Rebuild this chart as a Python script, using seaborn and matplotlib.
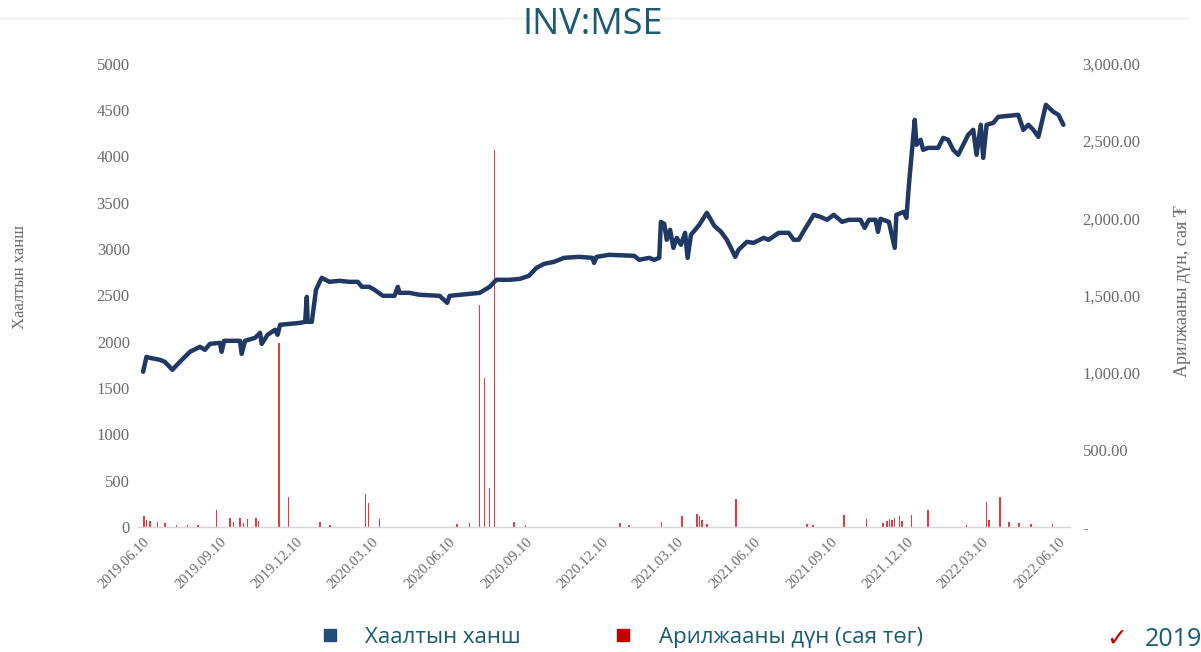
import numpy as np
import pandas as pd
import matplotlib.pyplot as plt
import matplotlib.dates as mdates
from matplotlib.lines import Line2D
from matplotlib.ticker import FuncFormatter
import seaborn as sns

# Closing price
price_dates = [
    "2019-06-10", "2019-06-14", "2019-06-18", "2019-06-30", "2019-07-06", "2019-07-15",
    "2019-07-24", "2019-08-05", "2019-08-17", "2019-08-23", "2019-08-29", "2019-09-10",
    "2019-09-12", "2019-09-15", "2019-10-04", "2019-10-06", "2019-10-10", "2019-10-22",
    "2019-10-28", "2019-10-30", "2019-11-06", "2019-11-15", "2019-11-18", "2019-11-21",
    "2019-12-03", "2019-12-15", "2019-12-21", "2019-12-23", "2019-12-24", "2019-12-29",
    "2020-01-03", "2020-01-08", "2020-01-10", "2020-01-19", "2020-01-31", "2020-02-12",
    "2020-02-22", "2020-02-27", "2020-03-07", "2020-03-13", "2020-03-23", "2020-04-06",
    "2020-04-10", "2020-04-12", "2020-04-24", "2020-05-06", "2020-05-30", "2020-06-08",
    "2020-06-11", "2020-07-05", "2020-07-17", "2020-07-29", "2020-08-06", "2020-08-22",
    "2020-09-03", "2020-09-14", "2020-09-23", "2020-10-02", "2020-10-14", "2020-10-26",
    "2020-11-13", "2020-11-29", "2020-12-01", "2020-12-04", "2020-12-19", "2021-01-18",
    "2021-01-24", "2021-02-05", "2021-02-11", "2021-02-17", "2021-02-19", "2021-02-23",
    "2021-02-26", "2021-03-02", "2021-03-06", "2021-03-10", "2021-03-15", "2021-03-20",
    "2021-03-23", "2021-03-27", "2021-04-06", "2021-04-15", "2021-04-24", "2021-05-02",
    "2021-05-09", "2021-05-15", "2021-05-19", "2021-05-23", "2021-06-02", "2021-06-10",
    "2021-06-22", "2021-06-28", "2021-07-10", "2021-07-22", "2021-07-28", "2021-08-03",
    "2021-08-10", "2021-08-21", "2021-08-29", "2021-09-06", "2021-09-14", "2021-09-24",
    "2021-10-02", "2021-10-16", "2021-10-21", "2021-10-26", "2021-11-03", "2021-11-06",
    "2021-11-09", "2021-11-19", "2021-11-26", "2021-11-28", "2021-12-07", "2021-12-10",
    "2021-12-13", "2021-12-16", "2021-12-20", "2021-12-22", "2021-12-27", "2021-12-30",
    "2022-01-05", "2022-01-17", "2022-01-23", "2022-01-29", "2022-02-04", "2022-02-10",
    "2022-02-16", "2022-02-22", "2022-02-28", "2022-03-04", "2022-03-09", "2022-03-12",
    "2022-03-16", "2022-03-24", "2022-03-30", "2022-04-23", "2022-04-29", "2022-05-05",
    "2022-05-11", "2022-05-17", "2022-05-26", "2022-06-04", "2022-06-10", "2022-06-16",
]
close = [
    1675, 1836, 1825, 1804, 1782, 1696,
    1782, 1890, 1944, 1912, 1976, 1987,
    1890, 2009, 2009, 1868, 2009, 2041,
    2095, 1976, 2074, 2128, 2074, 2182,
    2192, 2203, 2214, 2484, 2214, 2214,
    2560, 2657, 2689, 2646, 2657, 2646,
    2646, 2592, 2592, 2560, 2495, 2495,
    2592, 2527, 2527, 2506, 2495, 2419,
    2495, 2516, 2527, 2592, 2668, 2668,
    2678, 2711, 2797, 2840, 2862, 2905,
    2916, 2905, 2851, 2916, 2938, 2927,
    2884, 2905, 2884, 2905, 3294, 3272,
    3100, 3208, 3013, 3121, 3046, 3175,
    2905, 3154, 3262, 3391, 3251, 3186,
    3100, 2992, 2916, 2992, 3078, 3067,
    3121, 3100, 3175, 3175, 3100, 3100,
    3208, 3370, 3348, 3316, 3370, 3294,
    3316, 3316, 3229, 3316, 3316, 3186,
    3326, 3294, 3013, 3370, 3402, 3337,
    3694, 3996, 4396, 4126, 4180, 4072,
    4093, 4093, 4201, 4180, 4072, 4018,
    4126, 4234, 4288, 4018, 4342, 3985,
    4342, 4363, 4428, 4450, 4288, 4342,
    4288, 4212, 4558, 4482, 4450, 4342,
]

# Trading value, million MNT
vol_dates = [
    "2019-06-11", "2019-06-14", "2019-06-18", "2019-06-27", "2019-07-06", "2019-07-20",
    "2019-08-02", "2019-08-15", "2019-09-06", "2019-09-22", "2019-09-26", "2019-10-04",
    "2019-10-08", "2019-10-13", "2019-10-23", "2019-10-26", "2019-11-20", "2019-12-01",
    "2020-01-08", "2020-01-20", "2020-03-02", "2020-03-06", "2020-03-19", "2020-06-20",
    "2020-07-05", "2020-07-17", "2020-07-23", "2020-07-29", "2020-08-04", "2020-08-27",
    "2020-09-10", "2021-01-01", "2021-01-12", "2021-02-20", "2021-03-16", "2021-04-03",
    "2021-04-06", "2021-04-09", "2021-04-15", "2021-05-20", "2021-08-13", "2021-08-20",
    "2021-09-26", "2021-10-23", "2021-11-12", "2021-11-17", "2021-11-20", "2021-11-23",
    "2021-11-26", "2021-12-02", "2021-12-05", "2021-12-16", "2022-01-05", "2022-02-20",
    "2022-03-16", "2022-03-19", "2022-04-01", "2022-04-12", "2022-04-24", "2022-05-08",
    "2022-06-03",
]
volume = [
    70, 45, 40, 30, 25, 15,
    15, 12, 110, 60, 30, 55,
    25, 50, 60, 35, 1190, 195,
    30, 12, 214, 155, 52, 20,
    25, 1438, 965, 253, 2443, 30,
    12, 25, 12, 30, 70, 85,
    70, 45, 20, 180, 20, 12,
    78, 50, 25, 35, 50, 45,
    60, 70, 40, 78, 110, 15,
    160, 45, 195, 30, 25, 18,
    20,
]

tick_dates = ["2019-06-10", "2019-09-10", "2019-12-10", "2020-03-10", "2020-06-10",
              "2020-09-10", "2020-12-10", "2021-03-10", "2021-06-10", "2021-09-10",
              "2021-12-10", "2022-03-10", "2022-06-10"]

df_price = pd.DataFrame({"date": pd.to_datetime(price_dates), "close": close})
df_vol = pd.DataFrame({"date": pd.to_datetime(vol_dates), "volume": volume})

sns.set_style("white")
plt.rcParams["font.family"] = ["Liberation Serif", "DejaVu Serif"]

navy = "#1f3864"
red = "#e53a42"
teal = "#1a5a73"
grey = "#6b6b6b"

fig = plt.figure(figsize=(12.01, 6.52), dpi=100)
ax = fig.add_axes([0.115, 0.192, 0.776, 0.71])
ax2 = ax.twinx()

# trading value bars on the right axis
ax2.bar(df_vol["date"], df_vol["volume"], width=1.8, color=red, linewidth=0)
ax2.set_ylim(0, 3000)
ax2.set_yticks(np.arange(0, 3001, 500))
ax2.yaxis.set_major_formatter(FuncFormatter(lambda v, p: "-" if v == 0 else f"{v:,.2f}"))
ax2.set_ylabel("Арилжааны дүн, сая ₮", color=grey, fontsize=13)
ax2.yaxis.set_label_coords(1.111, 0.51)

# closing price line on the left axis, drawn above the bars
sns.lineplot(data=df_price, x="date", y="close", ax=ax, color=navy, linewidth=3.2)
ax.set_zorder(ax2.get_zorder() + 1)
ax.patch.set_visible(False)
ax.set_ylim(0, 5000)
ax.set_yticks(np.arange(0, 5001, 500))
ax.set_ylabel("Хаалтын ханш", color=grey, fontsize=12)
ax.yaxis.set_label_coords(-0.118, 0.54)
ax.set_xlabel("")
ax.set_xlim(pd.Timestamp("2019-06-04"), pd.Timestamp("2022-06-24"))
ax.set_xticks(pd.to_datetime(tick_dates))
ax.xaxis.set_major_formatter(mdates.DateFormatter("%Y.%m.%d"))
for lbl in ax.get_xticklabels():
    lbl.set_rotation(45)
    lbl.set_ha("right")
    lbl.set_rotation_mode("anchor")

for a in (ax, ax2):
    a.tick_params(length=0, labelsize=12, labelcolor=grey)
    for s in a.spines.values():
        s.set_visible(False)
ax.tick_params(axis="y", pad=6)
ax.tick_params(axis="x", pad=6, labelsize=10.5)
ax2.tick_params(axis="y", pad=9)
ax.spines["bottom"].set_visible(True)
ax.spines["bottom"].set_color("#d6d6d6")
ax.spines["bottom"].set_linewidth(1)

fig.suptitle("INV:MSE", x=0.494, y=0.99, fontsize=26, color=teal, family="Open Sans")
fig.add_artist(Line2D([0.0, 0.99], [0.972, 0.972], color="#ececec", linewidth=1))

handles = [
    Line2D([], [], marker="s", linestyle="", markersize=8, color="#1f4e79"),
    Line2D([], [], marker="s", linestyle="", markersize=8, color="#c00000"),
]
fig.legend(handles, ["Хаалтын ханш", "Арилжааны дүн (сая төг)"], loc="center",
           bbox_to_anchor=(0.512, 0.022), ncol=2, frameon=False, columnspacing=3.6,
           handletextpad=0.6, prop={"family": "Open Sans", "size": 16}, labelcolor=teal)

fig.text(0.921, 0.002, "✓", color="#c00000", fontsize=18, va="bottom", family=["DejaVu Sans"])
fig.text(0.953, 0.0, "2019", color=teal, fontsize=18, va="bottom", family="Open Sans")

fig.savefig("out.png", dpi=100)
